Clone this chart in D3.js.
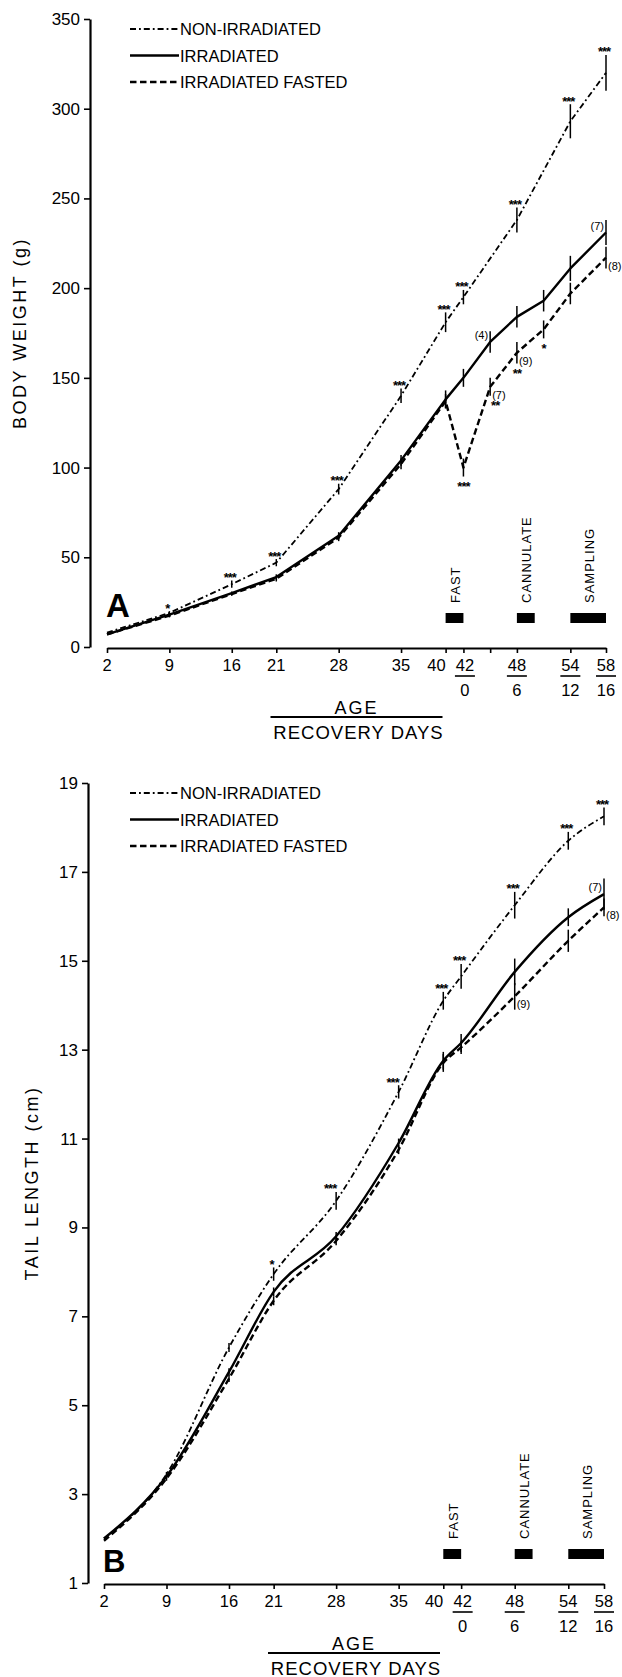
<!DOCTYPE html>
<html><head><meta charset="utf-8">
<script src="https://cdn.jsdelivr.net/npm/d3@7"></script>
<style>
html,body{margin:0;padding:0;background:#fff;}
svg{display:block;}
</style></head><body>
<svg id="chart" width="622" height="1677"></svg>
<script>
// ---------------- DATA ----------------
const SERIES = ["NON-IRRADIATED", "IRRADIATED", "IRRADIATED FASTED"];

// Panel A : body weight (g)
const AGES_A_NONIRR = [2, 9, 16, 21, 28, 35, 40, 42, 48, 54, 58];
const A_NONIRR      = [8, 19, 35, 47, 88, 140, 181, 195, 238, 293, 320];
const A_NONIRR_ERR  = [0, 1, 2, 2, 3, 4, 5.5, 4, 7, 9.5, 10];
const AGES_A_IRR    = [2, 9, 16, 21, 28, 35, 40, 42, 45, 48, 51, 54, 58];
const A_IRR         = [7, 18, 30, 39, 62, 104, 138, 150, 170, 184, 193, 211, 231];
const A_IRR_ERR     = [0, 1, 1, 1.5, 2, 3, 5, 5, 6, 6, 6, 7, 7];
const A_FASTED      = [7, 17.5, 29.5, 38, 61, 102, 137, 100, 145, 164, 177, 197, 217];
const A_FASTED_ERR  = [0, 1, 1, 1.5, 2, 3, 4, 5, 5, 6, 5, 6, 6];

// Panel B : tail length (cm)
const AGES_B        = [2, 9, 16, 21, 28, 35, 40, 42, 48, 54, 58];
const B_NONIRR      = [2.0, 3.45, 6.3, 7.95, 9.6, 12.05, 14.1, 14.65, 16.25, 17.7, 18.25];
const B_NONIRR_ERR  = [0, 0.05, 0.1, 0.15, 0.2, 0.15, 0.2, 0.28, 0.3, 0.2, 0.2];
const B_IRR         = [2.0, 3.4, 5.75, 7.55, 8.8, 10.9, 12.75, 13.15, 14.75, 15.98, 16.5];
const B_IRR_ERR     = [0, 0.05, 0.08, 0.1, 0.1, 0.1, 0.2, 0.2, 0.3, 0.2, 0.35];
const B_FASTED      = [1.95, 3.35, 5.6, 7.35, 8.7, 10.75, 12.7, 13.05, 14.2, 15.45, 16.2];
const B_FASTED_ERR  = [0, 0.05, 0.08, 0.1, 0.1, 0.1, 0.2, 0.15, 0.3, 0.25, 0.2];

// Axes
const Y_TICKS_A = [0, 50, 100, 150, 200, 250, 300, 350];
const Y_TICK_LABELS_A = ["0", "50", "100", "150", "200", "250", "300", "350"];
const Y_TICKS_B = [1, 3, 5, 7, 9, 11, 13, 15, 17, 19];
const Y_TICK_LABELS_B = ["1", "3", "5", "7", "9", "11", "13", "15", "17", "19"];
const X_TICKS_A = [2, 9, 16, 21, 28, 35, 40, 42, 45, 48, 54, 58];
const X_TICK_LABELS_A = ["2", "9", "16", "21", "28", "35", "40", "42", "", "48", "54", "58"];
const X_TICKS_B = [2, 9, 16, 21, 28, 35, 40, 42, 48, 54, 58];
const X_TICK_LABELS_B = ["2", "9", "16", "21", "28", "35", "40", "42", "48", "54", "58"];
const RECOVERY_AGES = [42, 48, 54, 58];
const RECOVERY_LABELS = ["0", "6", "12", "16"];

// Protocol events (age ranges)
const EVENTS = ["FAST", "CANNULATE", "SAMPLING"];
const EVENT_START = [40, 48, 54];
const EVENT_END = [42, 50, 58];

// Significance marks and group sizes: [series index, age, text, placement]
const MARKS_A = [
  [0, 9, "*", "above"], [0, 16, "***", "above"], [0, 21, "***", "above"], [0, 28, "***", "above"],
  [0, 35, "***", "above"], [0, 40, "***", "above"], [0, 42, "***", "above"], [0, 48, "***", "above"],
  [0, 54, "***", "above"], [0, 58, "***", "above"],
  [2, 42, "***", "below"], [2, 45, "**", "belowRight"], [2, 48, "**", "below"], [2, 51, "*", "below"]
];
const NLABELS_A = [
  [1, 45, "(4)", "left"], [2, 45, "(7)", "right"], [2, 48, "(9)", "right"],
  [1, 58, "(7)", "left"], [2, 58, "(8)", "right"]
];
const MARKS_B = [
  [0, 21, "*", "above"], [0, 28, "***", "aboveLeft"], [0, 35, "***", "aboveLeft"], [0, 40, "***", "above"],
  [0, 42, "***", "above"], [0, 48, "***", "above"], [0, 54, "***", "above"], [0, 58, "***", "above"]
];
const NLABELS_B = [
  [1, 58, "(7)", "left"], [2, 48, "(9)", "right"], [2, 58, "(8)", "right"]
];

// ---------------- DRAWING ----------------
const FONT = "'Liberation Sans', Arial, sans-serif";
const INK = "#000";
const STYLES = [
  { w: 1.8, dash: "6,3,1.8,3" },
  { w: 2.4, dash: null },
  { w: 2.4, dash: "6.5,3.5" }
];
const svg = d3.select("#chart");

function zip(ages, vals, errs) {
  return ages.map((a, i) => ({ age: a, v: vals[i], e: errs[i] }));
}

function drawPanel(p) {
  const g = svg.append("g");
  const x = d3.scaleLinear().domain([2, 58]).range([p.xLeft, p.xRight]);
  const y = d3.scaleLinear().domain(p.yDomain).range([p.bottom, p.top]);

  // Y axis
  const ya = g.append("g").attr("transform", `translate(${p.yAxisX},0)`)
    .call(d3.axisLeft(y).tickValues(p.yTicks).tickFormat((d, i) => p.yTickLabels[i])
      .tickSize(6).tickSizeOuter(0).tickPadding(4))
    .attr("font-family", FONT).attr("font-size", 17);
  ya.select(".domain").attr("stroke", INK).attr("stroke-width", 2.2);
  ya.selectAll(".tick line").attr("stroke", INK).attr("stroke-width", 1.6);
  ya.selectAll(".tick text").attr("fill", INK);

  // X axis
  const xa = g.append("g").attr("transform", `translate(0,${p.axisY})`)
    .call(d3.axisBottom(x).tickValues(p.xTicks).tickFormat("").tickSize(5).tickSizeOuter(0));
  xa.select(".domain").attr("stroke", INK).attr("stroke-width", 2.2);
  xa.selectAll(".tick line").attr("stroke", INK).attr("stroke-width", 1.6);

  p.xTicks.forEach((t, i) => {
    const lab = p.xTickLabels[i];
    if (!lab) return;
    let anchor = "middle", dx = 0;
    const next = p.xTicks[i + 1], prev = p.xTicks[i - 1];
    if (next !== undefined && p.xTickLabels[i + 1] && x(next) - x(t) < 22) { anchor = "end"; dx = 0; }
    else if (prev !== undefined && x(t) - x(prev) < 22) { dx = 1.5; }
    g.append("text").attr("x", x(t) + dx).attr("y", p.axisY + 23)
      .attr("text-anchor", anchor).attr("font-family", FONT).attr("font-size", 16.5)
      .attr("fill", INK).text(lab);
  });

  // Recovery days (fraction style)
  RECOVERY_AGES.forEach((t, i) => {
    const cx = x(t) + (t === 42 ? 1.5 : 0);
    g.append("line").attr("x1", cx - 10).attr("x2", cx + 10)
      .attr("y1", p.axisY + 28).attr("y2", p.axisY + 28)
      .attr("stroke", INK).attr("stroke-width", 1.6);
    g.append("text").attr("x", cx).attr("y", p.axisY + 48)
      .attr("text-anchor", "middle").attr("font-family", FONT).attr("font-size", 16.5)
      .attr("fill", INK).text(RECOVERY_LABELS[i]);
  });

  // AGE / RECOVERY DAYS title
  const cx = (p.xLeft + p.xRight) / 2;
  g.append("text").attr("x", cx).attr("y", p.axisY + 65.5).attr("text-anchor", "middle")
    .attr("font-family", FONT).attr("font-size", 18).attr("letter-spacing", 2)
    .attr("fill", INK).text("AGE");
  g.append("line").attr("x1", cx - 86).attr("x2", cx + 86)
    .attr("y1", p.axisY + 69).attr("y2", p.axisY + 69)
    .attr("stroke", INK).attr("stroke-width", 1.8);
  g.append("text").attr("x", cx + 2).attr("y", p.axisY + 90.5).attr("text-anchor", "middle")
    .attr("font-family", FONT).attr("font-size", 18.5).attr("letter-spacing", 1)
    .attr("fill", INK).text("RECOVERY DAYS");

  // Y title
  g.append("text")
    .attr("transform", `translate(${p.titleX},${(p.top + p.bottom) / 2}) rotate(-90)`)
    .attr("dy", "0.36em").attr("text-anchor", "middle")
    .attr("font-family", FONT).attr("font-size", 18).attr("letter-spacing", 2.5)
    .attr("fill", INK).text(p.yTitle);

  // Series lines
  const line = d3.line().x(d => x(d.age)).y(d => y(d.v)).curve(p.curve);
  p.series.forEach((s, si) => {
    const st = STYLES[si];
    g.append("path").datum(s).attr("d", line).attr("fill", "none")
      .attr("stroke", INK).attr("stroke-width", st.w)
      .attr("stroke-dasharray", st.dash).attr("stroke-linejoin", "round");
    // error bars
    g.selectAll(null).data(s.filter(d => d.e > 0)).enter().append("line")
      .attr("x1", d => x(d.age)).attr("x2", d => x(d.age))
      .attr("y1", d => y(d.v - d.e)).attr("y2", d => y(d.v + d.e))
      .attr("stroke", INK).attr("stroke-width", 1.5);
  });

  const findPt = (si, age) => p.series[si].find(d => d.age === age);

  // significance marks
  p.marks.forEach(([si, age, txt, pos]) => {
    const d = findPt(si, age);
    let cy, dx = -2;
    if (pos.startsWith("above")) cy = y(d.v + d.e) - 6;
    else cy = y(d.v - d.e) + 7;
    if (pos === "aboveLeft") dx = -6;
    if (pos === "belowRight") dx = 5;
    if (pos.startsWith("below") && pos !== "belowRight") dx = 0;
    g.append("text").attr("x", x(age) + dx).attr("y", cy + 7.5)
      .attr("text-anchor", "middle").attr("font-family", FONT).attr("font-weight", "bold")
      .attr("font-size", 13).attr("letter-spacing", -1).attr("fill", INK).text(txt);
  });

  // group sizes
  p.nlabels.forEach(([si, age, txt, pos]) => {
    const d = findPt(si, age);
    const left = pos === "left";
    const cy = left ? y(d.v) - 7 : y(d.v) + 8;
    g.append("text").attr("x", x(age) + (left ? -2 : 2)).attr("y", cy + 4)
      .attr("text-anchor", left ? "end" : "start").attr("font-family", FONT)
      .attr("font-size", 11).attr("fill", INK).text(txt);
  });

  // Protocol events
  EVENTS.forEach((ev, i) => {
    const x0 = x(EVENT_START[i]), x1 = x(EVENT_END[i]);
    g.append("rect").attr("x", x0).attr("width", x1 - x0)
      .attr("y", p.axisY - 35).attr("height", 10).attr("fill", INK);
    g.append("text")
      .attr("transform", `translate(${(x0 + x1) / 2 + 1},${p.axisY - 45}) rotate(-90)`)
      .attr("dy", "0.36em").attr("text-anchor", "start")
      .attr("font-family", FONT).attr("font-size", 13).attr("letter-spacing", 1)
      .attr("fill", INK).text(ev);
  });

  // Legend
  SERIES.forEach((name, i) => {
    const ly = p.top + 10 + i * 26.5;
    g.append("line").attr("x1", 130).attr("x2", 179).attr("y1", ly).attr("y2", ly)
      .attr("stroke", INK).attr("stroke-width", STYLES[i].w)
      .attr("stroke-dasharray", STYLES[i].dash);
    g.append("text").attr("x", 180).attr("y", ly + 6)
      .attr("font-family", FONT).attr("font-size", 16.5).attr("fill", INK).text(name);
  });

  // Panel letter
  g.append("text").attr("x", p.letterX).attr("y", p.letterY)
    .attr("font-family", FONT).attr("font-weight", "bold").attr("font-size", p.letterSize)
    .attr("fill", INK).text(p.letter);
}

drawPanel({
  yDomain: [0, 350], top: 19, bottom: 647, yAxisX: 90,
  xLeft: 107, xRight: 606, axisY: 648,
  yTicks: Y_TICKS_A, yTickLabels: Y_TICK_LABELS_A,
  xTicks: X_TICKS_A, xTickLabels: X_TICK_LABELS_A,
  titleX: 20, yTitle: "BODY WEIGHT (g)",
  curve: d3.curveLinear,
  series: [zip(AGES_A_NONIRR, A_NONIRR, A_NONIRR_ERR), zip(AGES_A_IRR, A_IRR, A_IRR_ERR), zip(AGES_A_IRR, A_FASTED, A_FASTED_ERR)],
  marks: MARKS_A, nlabels: NLABELS_A,
  letter: "A", letterX: 106, letterY: 617, letterSize: 33
});

drawPanel({
  yDomain: [1, 19], top: 783, bottom: 1583, yAxisX: 88,
  xLeft: 104, xRight: 604, axisY: 1584,
  yTicks: Y_TICKS_B, yTickLabels: Y_TICK_LABELS_B,
  xTicks: X_TICKS_B, xTickLabels: X_TICK_LABELS_B,
  titleX: 32, yTitle: "TAIL LENGTH (cm)",
  curve: d3.curveMonotoneX,
  series: [zip(AGES_B, B_NONIRR, B_NONIRR_ERR), zip(AGES_B, B_IRR, B_IRR_ERR), zip(AGES_B, B_FASTED, B_FASTED_ERR)],
  marks: MARKS_B, nlabels: NLABELS_B,
  letter: "B", letterX: 103, letterY: 1572, letterSize: 31
});
</script>
</body></html>
